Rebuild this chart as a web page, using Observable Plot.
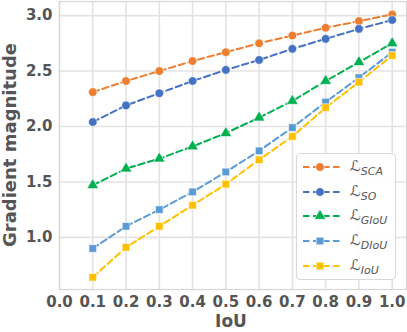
<!DOCTYPE html>
<html>
<head>
<meta charset="utf-8">
<script src="https://cdn.jsdelivr.net/npm/d3@7"></script>
<script src="https://cdn.jsdelivr.net/npm/@observablehq/plot@0.6"></script>
<style>
  html, body { margin: 0; padding: 0; background: #fff; }
  #wrap { position: relative; width: 407px; height: 332px; font-family: "DejaVu Sans", sans-serif; }
  #legend { position: absolute; left: 296px; top: 153px; width: 100px; height: 127px; box-sizing: border-box;
    border: 1px solid #d9d9d9; border-radius: 4px; background: rgba(255,255,255,0.9); }
  .row { position: absolute; left: 0; height: 20px; width: 100px; }
  .row svg { position: absolute; left: 5px; top: 0; }
  .lab { position: absolute; left: 53px; top: 0px; font-size: 15px; color: #555; font-family: "DejaVu Sans", sans-serif; white-space: nowrap; }
  .lab sub { font-style: italic; font-size: 11px; vertical-align: -4px; }
</style>
</head>
<body>
<div id="wrap"></div>
<script>
const iou = [0.1, 0.2, 0.3, 0.4, 0.5, 0.6, 0.7, 0.8, 0.9, 1.0];
const seriesNames = ["SCA", "SO", "GIoU", "DIoU", "IoU"];
const sca  = [2.31, 2.41, 2.50, 2.59, 2.67, 2.75, 2.82, 2.89, 2.95, 3.01];
const so   = [2.04, 2.19, 2.30, 2.41, 2.51, 2.60, 2.70, 2.79, 2.88, 2.96];
const giou = [1.47, 1.62, 1.71, 1.82, 1.94, 2.08, 2.23, 2.41, 2.58, 2.75];
const diou = [0.90, 1.10, 1.25, 1.41, 1.59, 1.78, 1.99, 2.22, 2.44, 2.67];
const iouL = [0.64, 0.91, 1.10, 1.29, 1.48, 1.70, 1.91, 2.17, 2.40, 2.64];
const colors = ["#ED7D31", "#4472C4", "#00B050", "#5B9BD5", "#FFC000"];
const symbols = ["circle", "circle", "triangle", "square", "square"];
const xTicks = [0, 0.1, 0.2, 0.3, 0.4, 0.5, 0.6, 0.7, 0.8, 0.9, 1.0];
const yTicks = [1.0, 1.5, 2.0, 2.5, 3.0];

const allValues = [sca, so, giou, diou, iouL];
const table = [];
seriesNames.forEach((name, i) => {
  iou.forEach((x, j) => table.push({series: name, x, y: allValues[i][j]}));
});

const chart = Plot.plot({
  width: 407,
  height: 332,
  marginLeft: 59,
  marginRight: 1,
  marginTop: 1,
  marginBottom: 43,
  style: {fontFamily: "DejaVu Sans, sans-serif", background: "#fff"},
  x: {domain: [0, 1.043], ticks: xTicks, tickFormat: d3.format(".1f"), label: null},
  y: {domain: [0.53, 3.127], ticks: yTicks, tickFormat: d3.format(".1f"), label: null},
  color: {domain: seriesNames, range: colors},
  symbol: {domain: seriesNames, range: symbols},
  marks: [
    Plot.gridX(xTicks, {stroke: "#e3e3e3", strokeOpacity: 1, strokeWidth: 1.6}),
    Plot.gridY(yTicks, {stroke: "#e3e3e3", strokeOpacity: 1, strokeWidth: 1.6}),
    Plot.frame({stroke: "#d6d6d6", strokeWidth: 1.2}),
    Plot.axisX(xTicks, {tickSize: 0, tickPadding: 7, fontSize: 15, fontWeight: "bold", fill: "#555", tickFormat: d3.format(".1f")}),
    Plot.axisY(yTicks, {tickSize: 0, tickPadding: 7, fontSize: 15, fontWeight: "bold", fill: "#555", tickFormat: d3.format(".1f")}),
    Plot.line(table, {x: "x", y: "y", z: "series", stroke: "series", strokeWidth: 2, strokeDasharray: "6.5,3.5"}),
    Plot.dot(table, {x: "x", y: "y", symbol: "series", fill: "series", stroke: "white", strokeWidth: 0.6, r: 4.3})
  ]
});

const svg = d3.select(chart);
svg.append("text").attr("x", 231).attr("y", 327).attr("text-anchor", "middle")
  .attr("font-size", 17).attr("font-weight", "bold").attr("fill", "#555")
  .attr("font-family", "DejaVu Sans, sans-serif").text("IoU");
svg.append("text").attr("transform", "translate(16,145) rotate(-90)").attr("text-anchor", "middle")
  .attr("font-size", 18).attr("font-weight", "bold").attr("fill", "#555")
  .attr("font-family", "DejaVu Sans, sans-serif").text("Gradient magnitude");

const wrap = document.getElementById("wrap");
wrap.appendChild(chart);

const legend = document.createElement("div");
legend.id = "legend";
const symPath = {
  circle: d3.symbol(d3.symbolCircle, Math.PI * 4.3 * 4.3)(),
  triangle: d3.symbol(d3.symbolTriangle, Math.PI * 4.3 * 4.3)(),
  square: d3.symbol(d3.symbolSquare, Math.PI * 4.3 * 4.3)()
};
seriesNames.forEach((name, i) => {
  const row = document.createElement("div");
  row.className = "row";
  row.style.top = (3 + i * 24.7) + "px";
  row.innerHTML =
    `<svg width="40" height="20"><line x1="1" x2="39" y1="10" y2="10" stroke="${colors[i]}" stroke-width="2" stroke-dasharray="6.5,3.5"/>` +
    `<path transform="translate(18,10)" d="${symPath[symbols[i]]}" fill="${colors[i]}" stroke="white" stroke-width="0.6"/></svg>` +
    `<span class="lab">ℒ<sub>${name}</sub></span>`;
  legend.appendChild(row);
});
wrap.appendChild(legend);
</script>
</body>
</html>
